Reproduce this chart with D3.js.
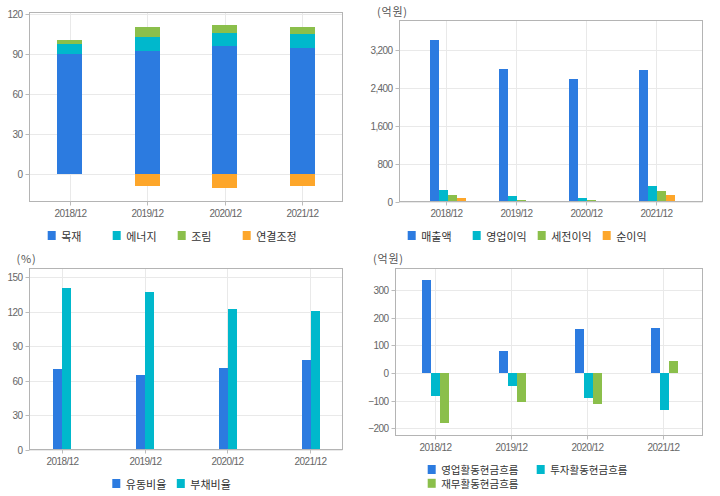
<!DOCTYPE html>
<html><head><meta charset="utf-8">
<script src="https://cdn.jsdelivr.net/npm/d3@7"></script>
<style>
body{margin:0;background:#fff;}
svg{display:block;font-family:"Liberation Sans",Arial,sans-serif;}
.tick text{fill:#666;font-size:10px;letter-spacing:-0.6px;}
.tick line{stroke:#bbb;}
.bars rect{shape-rendering:crispEdges;}
.leg{font-family:"Noto Sans CJK KR",sans-serif;font-size:11px;fill:#333;}
.unit{font-family:"Noto Sans CJK KR",sans-serif;font-size:11px;fill:#555;letter-spacing:0.8px;}
</style></head>
<body>
<script>
// ---- data ----
const periods = ["2018/12","2019/12","2020/12","2021/12"];

// chart 1: segment composition (stacked)
const segNames = ["목재","에너지","조림","연결조정"];
const seg_wood   = [89.7, 91.8, 95.6, 94.2];
const seg_energy = [8.0, 10.5, 9.8, 10.5];
const seg_forest = [2.5, 7.5, 6.0, 5.2];
const seg_adjust = [0, -9.3, -11.0, -9.3];
const ticks1 = [0,30,60,90,120];

// chart 2: income (억원)
const incNames = ["매출액","영업이익","세전이익","순이익"];
const inc_sales = [3400, 2792, 2581, 2771];
const inc_op    = [238, 112, 70, 323];
const inc_pre   = [133, 27, 22, 217];
const inc_net   = [70, 5, 20, 133];
const ticks2 = [0,800,1600,2400,3200];

// chart 3: ratios (%)
const ratioNames = ["유동비율","부채비율"];
const ratio_current = [70.0, 64.8, 70.9, 77.9];
const ratio_debt    = [140.7, 137.2, 122.4, 120.7];
const ticks3 = [0,30,60,90,120,150];

// chart 4: cash flow (억원)
const cfNames = ["영업활동현금흐름","투자활동현금흐름","재무활동현금흐름"];
const cf_op  = [337, 80, 160, 163];
const cf_inv = [-82, -46, -90, -133];
const cf_fin = [-180, -104, -111, 43];
const ticks4 = [-200,-100,0,100,200,300];

const colors = ["#2c7be0","#00b8cc","#8bbf4b","#fda62a"];

const svg = d3.select("body").append("svg").attr("width",720).attr("height",496);

function panel(o){
  const g = svg.append("g");
  const x = d3.scalePoint().domain(periods).range([o.x0,o.x1]).padding(o.pad);
  const y = d3.scaleLinear().domain(o.dom).range([o.y1,o.y0]);
  // grid
  g.append("g").selectAll("line").data(o.ticks).join("line")
    .attr("x1",o.x0).attr("x2",o.x1)
    .attr("y1",d=>Math.round(y(d))+0.5).attr("y2",d=>Math.round(y(d))+0.5)
    .attr("stroke","#e9e9e9");
  g.append("g").selectAll("line").data(periods).join("line")
    .attr("y1",o.y0).attr("y2",o.y1)
    .attr("x1",d=>Math.round(x(d))+0.5).attr("x2",d=>Math.round(x(d))+0.5)
    .attr("stroke","#e9e9e9");
  // bars
  o.draw(g.append("g").attr("class","bars"),x,y);
  // border
  g.append("rect").attr("x",o.x0).attr("y",o.y0).attr("width",o.x1-o.x0).attr("height",o.y1-o.y0)
    .attr("fill","none").attr("stroke","#b4b4b4");
  // axes
  const ya = g.append("g").attr("transform",`translate(${o.x0},0)`)
    .call(d3.axisLeft(y).tickValues(o.ticks).tickSize(4).tickPadding(3).tickFormat(d3.format(",")));
  ya.select(".domain").remove();
  ya.selectAll(".tick").attr("transform",d=>`translate(0,${Math.round(y(d))+0.5})`);
  const xa = g.append("g").attr("transform",`translate(0,${o.y1})`)
    .call(d3.axisBottom(x).tickSize(4).tickPadding(4));
  xa.select(".domain").remove();
  xa.selectAll(".tick").attr("transform",d=>`translate(${Math.round(x(d))+0.5},0)`);
  if(o.unit){
    g.append("text").attr("class","unit").attr("x",o.unit[0]).attr("y",o.unit[1])
      .attr("dominant-baseline","central").text(o.unit[2]);
  }
  // legend
  const lg = g.append("g");
  o.legend.forEach((name,i)=>{
    const col = i % o.legCols, row = Math.floor(i/o.legCols);
    const lx = o.legX + col*o.legW, ly = o.y1 + 29.5 + row*13.8;
    lg.append("rect").attr("x",lx).attr("y",ly).attr("width",8).attr("height",9).attr("fill",colors[i]);
    lg.append("text").attr("class","leg").attr("x",lx+13.5).attr("y",ly+4.8)
      .attr("dominant-baseline","central").style("font-size",o.legFont||null).text(name);
  });
}

function groupBars(series, bw, off){
  return function(g,x,y){
    const n = series.length;
    series.forEach((vals,si)=>{
      g.append("g").selectAll("rect").data(vals).join("rect")
        .attr("x",(d,i)=>x(periods[i]) + off - n*bw/2 + si*bw)
        .attr("width",bw)
        .attr("y",d=>y(Math.max(0,d)))
        .attr("height",d=>Math.abs(y(d)-y(0)))
        .attr("fill",colors[si]);
    });
  };
}

// chart 1
const table1 = periods.map((p,i)=>({p, "목재":seg_wood[i], "에너지":seg_energy[i], "조림":seg_forest[i], "연결조정":seg_adjust[i]}));
const stacked1 = d3.stack().keys(segNames).offset(d3.stackOffsetDiverging)(table1);
panel({x0:29.5,x1:342.5,y0:12.5,y1:201.5,pad:0.517,dom:[-21.05,121.05],ticks:ticks1,
  legend:segNames,legCols:4,legW:65,legX:47.7,
  draw:(g,x,y)=>{
    stacked1.forEach((s,si)=>{
      g.append("g").selectAll("rect").data(s.filter(d=>d[1]!==d[0])).join("rect")
        .attr("x",d=>x(d.data.p)-12.5).attr("width",25)
        .attr("y",d=>y(d[1])).attr("height",d=>Math.abs(y(d[0])-y(d[1])))
        .attr("fill",colors[si]);
    });
  }});

// chart 2
panel({x0:399.5,x1:702.5,y0:20.5,y1:201.5,pad:0.674,dom:[0,3812],ticks:ticks2,
  unit:[377,11,"(억원)"],
  legend:incNames,legCols:4,legW:65,legX:407.7,
  draw:groupBars([inc_sales,inc_op,inc_pre,inc_net],9,1.3)});

// chart 3
panel({x0:29.5,x1:342.5,y0:268.5,y1:449.5,pad:0.39,dom:[0,157.5],ticks:ticks3,
  unit:[16.5,258,"(%)"],
  legend:ratioNames,legCols:2,legW:64.5,legX:112.3,
  draw:groupBars([ratio_current,ratio_debt],9,0.3)});

// chart 4
panel({x0:395.5,x1:702.5,y0:268.5,y1:435.5,pad:0.514,dom:[-226,378.5],ticks:ticks4,
  unit:[373,258,"(억원)"],
  legend:cfNames,legCols:2,legW:109,legX:427.7,legFont:"10.5px",
  draw:groupBars([cf_op,cf_inv,cf_fin],9,1.2)});
</script>
</body></html>
